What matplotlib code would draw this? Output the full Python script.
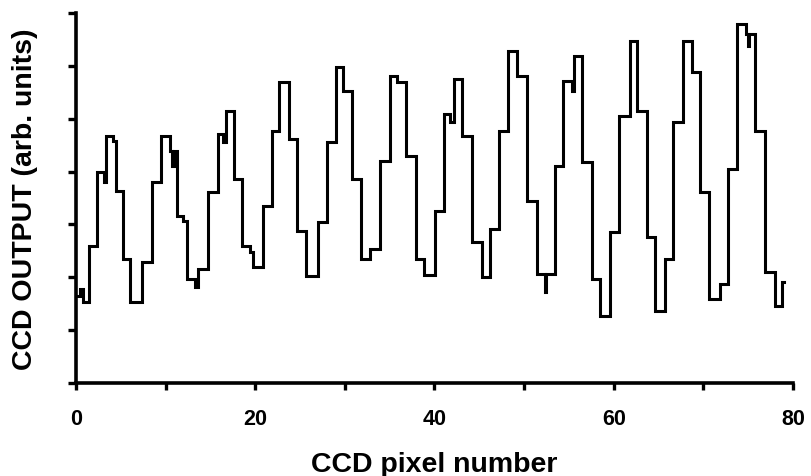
import numpy as np
import matplotlib
matplotlib.use("Agg")
import matplotlib.pyplot as plt

# Step start positions (CCD pixel number) and levels (arb. units)
step_x = [0.22, 0.45, 0.78, 1.45, 2.34, 3.13, 3.35, 4.13, 4.46, 5.25,
          6.03, 7.37, 8.48, 9.49, 10.49, 10.71, 10.94, 11.27, 11.94, 12.39,
          13.28, 13.62, 14.73, 15.85, 16.41, 16.74, 17.63, 18.53, 19.42, 19.75,
          20.87, 21.88, 22.66, 23.77, 24.67, 25.67, 27.01, 28.01, 29.02, 29.80,
          30.80, 31.81, 32.81, 33.93, 35.04, 35.83, 36.83, 37.95, 38.84, 40.07,
          41.07, 41.74, 42.19, 43.08, 44.20, 45.31, 46.21, 47.21, 48.21, 49.22,
          50.33, 51.45, 52.34, 52.46, 53.46, 54.35, 55.36, 55.58, 56.47, 57.59,
          58.48, 59.60, 60.60, 61.83, 62.61, 63.73, 64.62, 65.74, 66.63, 67.75,
          68.75, 69.64, 70.65, 71.88, 72.77, 73.77, 74.78, 74.95, 75.05, 75.78,
          76.90, 78.01, 78.79, 78.95]
step_y = [1.65, 1.78, 1.53, 2.59, 3.99, 3.80, 4.67, 4.58, 3.63, 2.35,
          1.53, 2.29, 3.80, 4.67, 4.39, 4.11, 4.39, 3.16, 3.06, 1.97,
          1.82, 2.16, 3.61, 4.71, 4.56, 5.15, 3.86, 2.59, 2.48, 2.19,
          3.35, 4.77, 5.69, 4.62, 2.88, 2.02, 3.05, 4.56, 5.98, 5.52,
          3.86, 2.35, 2.54, 4.20, 5.81, 5.69, 4.29, 2.35, 2.04, 3.25,
          5.09, 4.94, 5.75, 4.67, 2.67, 2.01, 2.91, 4.77, 6.28, 5.81,
          3.44, 2.06, 1.72, 2.06, 4.11, 5.71, 5.52, 6.19, 4.18, 1.97,
          1.27, 2.86, 5.05, 6.47, 5.15, 2.76, 1.36, 2.35, 4.94, 6.47,
          5.88, 3.61, 1.59, 1.87, 4.05, 6.79, 6.60, 6.38, 6.60, 4.77,
          2.10, 1.46, 1.91, 1.91]

x_ticks_major = [0, 20, 40, 60, 80]
x_ticks_minor = [10, 30, 50, 70]
y_ticks = [0, 1, 2, 3, 4, 5, 6, 7]

FONT = "Liberation Sans"

fig = plt.figure(figsize=(8.12, 4.77), dpi=100)
ax = fig.add_axes([76 / 812, (477 - 384) / 477, (793 - 76) / 812, 370 / 477])

ax.plot(step_x, step_y, drawstyle="steps-post", color="black", lw=2.2,
        solid_joinstyle="miter")

ax.set_xlim(0, 80)
ax.set_ylim(0, 7)
for s in ["top", "right"]:
    ax.spines[s].set_visible(False)
for s in ["left", "bottom"]:
    ax.spines[s].set_linewidth(2.6)

ax.set_xticks(x_ticks_major)
ax.set_xticks(x_ticks_minor, minor=True)
ax.set_yticks(y_ticks)
ax.set_yticklabels([])
ax.set_xticklabels([str(t) for t in x_ticks_major], fontfamily=FONT,
                   fontweight="bold", fontsize=15.5)
ax.tick_params(axis="x", which="both", direction="out", length=5, width=2.4, pad=13)
ax.tick_params(axis="y", which="both", direction="out", length=6, width=2.4)

ax.set_xlabel("CCD pixel number", fontfamily=FONT, fontweight="bold", fontsize=20.5)
ax.set_ylabel("CCD OUTPUT (arb. units)", fontfamily=FONT, fontweight="bold", fontsize=20.5)
ax.xaxis.set_label_coords(0.5, -0.185)
ax.yaxis.set_label_coords(-0.053, 0.5)

fig.savefig("out.png", dpi=100)
